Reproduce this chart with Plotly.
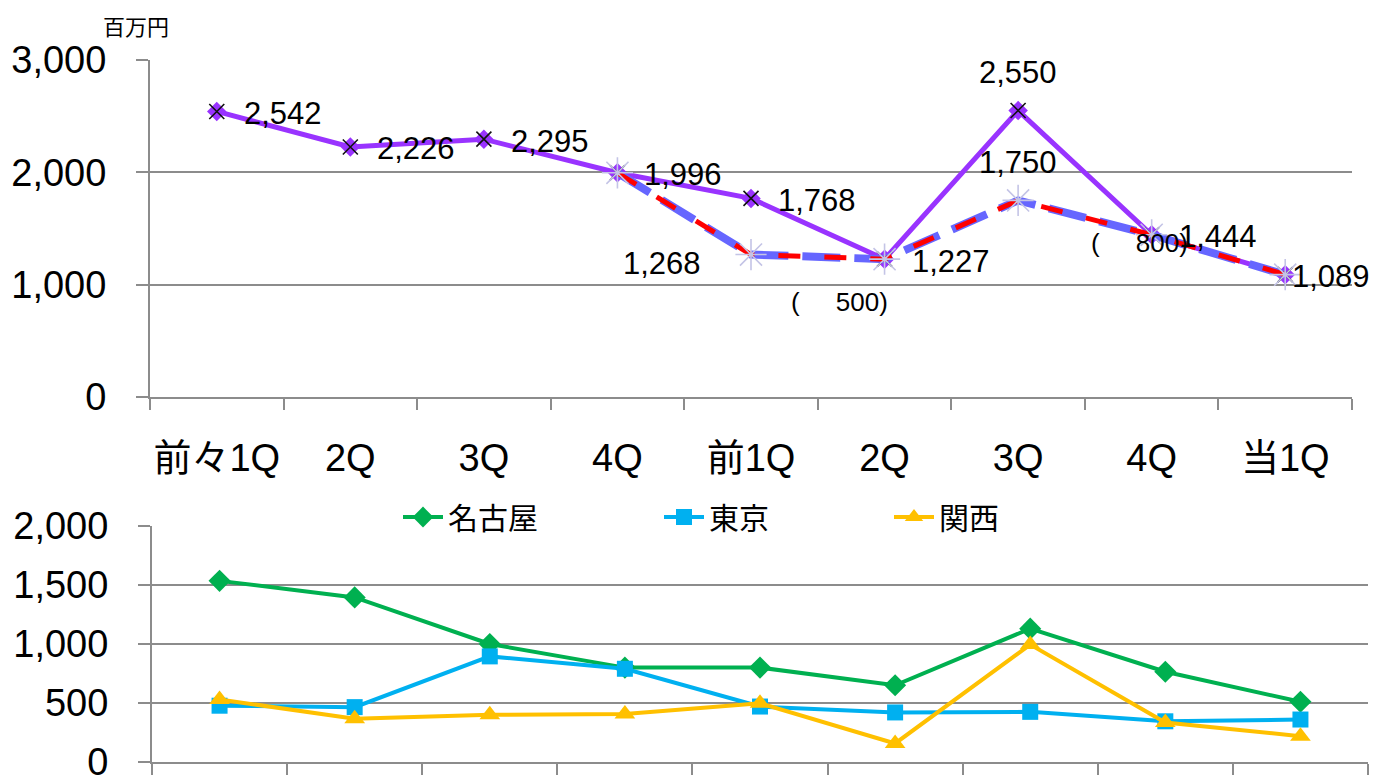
import plotly.graph_objects as go

categories = ["前々1Q", "2Q", "3Q", "4Q", "前1Q", "2Q ", "3Q ", "4Q ", "当1Q"]
tick_text = ["前々1Q", "2Q", "3Q", "4Q", "前1Q", "2Q", "3Q", "4Q", "当1Q"]

total = [2542, 2226, 2295, 1996, 1768, 1227, 2550, 1444, 1089]
plan = [None, None, None, 1996, 1268, 1227, 1750, 1444, 1089]
gap_labels = ["(     500)", "(     800)"]
gap_cats = [categories[4], categories[7]]

nagoya = [1535, 1395, 1000, 800, 800, 650, 1130, 765, 510]
tokyo = [477, 465, 895, 790, 470, 420, 425, 345, 360]
kansai = [530, 366, 400, 406, 498, 157, 995, 334, 219]

FONT = "Liberation Sans, Arial, Noto Sans CJK JP"
GRID = "#8c8c8c"
OFF = 8  # page body margin
W, H = 1378 - OFF, 779 - OFF


def fx(px):
    return (px - OFF) / W


def fy(py):
    return (779 - py) / H


fig = go.Figure()

# ---- top chart ----
fig.add_trace(go.Scatter(x=categories, y=total, mode="lines+markers",
                         line=dict(color="#9933FF", width=5),
                         marker=dict(symbol="diamond", size=15, color="#9933FF"),
                         xaxis="x", yaxis="y", showlegend=False))
fig.add_trace(go.Scatter(x=categories, y=total, mode="markers",
                         marker=dict(symbol="x-thin-open", size=15, color="#111111",
                                     line=dict(color="#111111", width=1.6)),
                         xaxis="x", yaxis="y", showlegend=False))
fig.add_trace(go.Scatter(x=categories, y=plan, mode="lines",
                         line=dict(color="#6666FF", width=8, dash="38px,14px"),
                         xaxis="x", yaxis="y", showlegend=False))
fig.add_trace(go.Scatter(x=categories, y=plan, mode="lines+markers",
                         line=dict(color="#FF0000", width=5, dash="22px,24px"),
                         marker=dict(symbol="asterisk-open", size=26, color="#C4C4E6",
                                     line=dict(color="#C4C4E6", width=1.6)),
                         xaxis="x", yaxis="y", showlegend=False))

# ---- bottom chart ----
fig.add_trace(go.Scatter(x=categories, y=nagoya, mode="lines+markers", name="名古屋",
                         line=dict(color="#00B050", width=4),
                         marker=dict(symbol="diamond", size=17, color="#00B050"),
                         xaxis="x2", yaxis="y2", legend="legend"))
fig.add_trace(go.Scatter(x=categories, y=tokyo, mode="lines+markers", name="東京",
                         line=dict(color="#00B0F0", width=4),
                         marker=dict(symbol="square", size=16, color="#00B0F0"),
                         xaxis="x2", yaxis="y2", legend="legend2"))
fig.add_trace(go.Scatter(x=categories, y=kansai, mode="lines+markers", name="関西",
                         line=dict(color="#FFC000", width=4),
                         marker=dict(symbol="triangle-up", size=18, color="#FFC000"),
                         xaxis="x2", yaxis="y2", legend="legend3"))

# ---- data labels ----
ann = []
for i, (c, v) in enumerate(zip(categories, total)):
    if i == 6:
        ann.append(dict(x=c, y=v, text=f"{v:,}", xanchor="center", yanchor="middle",
                        yshift=38, showarrow=False))
    else:
        xs = 5 if i == 8 else 25
        ann.append(dict(x=c, y=v, text=f"{v:,}", xanchor="left", yanchor="middle",
                        xshift=xs, yshift=-2, showarrow=False))
ann.append(dict(x=categories[4], y=plan[4], text=f"{plan[4]:,}", xanchor="right",
                yanchor="middle", xshift=-48, yshift=-9, showarrow=False))
ann.append(dict(x=categories[6], y=plan[6], text=f"{plan[6]:,}", xanchor="center",
                yanchor="middle", yshift=38, showarrow=False))
ann.append(dict(x=gap_cats[0], y=plan[4], text=gap_labels[0], xanchor="center",
                yanchor="middle", xshift=88, yshift=-47, showarrow=False,
                font=dict(size=26)))
ann.append(dict(x=gap_cats[1], y=plan[7], text=gap_labels[1], xanchor="center",
                yanchor="middle", xshift=-12, yshift=-8, showarrow=False,
                font=dict(size=26)))
for a in ann:
    a.setdefault("font", dict(size=31))
    a["font"]["family"] = FONT
    a["font"]["color"] = "#000000"
    a["xref"] = "x"
    a["yref"] = "y"

ann.append(dict(x=fx(136), y=fy(25), xref="paper", yref="paper", text="百万円",
                showarrow=False, xanchor="center", yanchor="middle",
                font=dict(size=22, family="Noto Sans CJK JP", color="#000000")))

axis_common = dict(showline=True, linecolor=GRID, linewidth=2, ticks="outside",
                   tickwidth=2, tickcolor=GRID, automargin=False,
                   ticklabeloverflow="allow")

leg_common = dict(orientation="h", xanchor="left", y=fy(517), yanchor="middle",
                  bgcolor="rgba(0,0,0,0)", itemwidth=40,
                  font=dict(size=30, family="Noto Sans CJK JP", color="#000000"))

fig.update_layout(
    width=W, height=H,
    margin=dict(l=0, r=0, t=0, b=0, autoexpand=False),
    paper_bgcolor="white", plot_bgcolor="white",
    font=dict(family=FONT, color="#000000"),
    annotations=ann,
    xaxis=dict(domain=[fx(150), fx(1352)], type="category", categoryorder="array",
               categoryarray=categories, range=[-0.5, 8.5],
               tickmode="array", tickvals=categories, ticktext=tick_text,
               tickson="boundaries", ticklen=11, showgrid=False, tickangle=0,
               tickfont=dict(size=38), ticklabelstandoff=26, anchor="y",
               **axis_common),
    yaxis=dict(domain=[fy(397), fy(60)], range=[0, 3000],
               tickvals=[0, 1000, 2000, 3000], tickformat=",",
               showgrid=True, gridcolor=GRID, gridwidth=2, zeroline=False,
               ticklen=12, tickfont=dict(size=38), ticklabelstandoff=22,
               anchor="x", **axis_common),
    xaxis2=dict(domain=[fx(152), fx(1368)], type="category", categoryorder="array",
                categoryarray=categories, range=[-0.5, 8.5],
                tickson="boundaries", ticklen=11, showgrid=False,
                showticklabels=False, anchor="y2", **axis_common),
    yaxis2=dict(domain=[fy(762), fy(526)], range=[0, 2000],
                tickvals=[0, 500, 1000, 1500, 2000], tickformat=",",
                showgrid=True, gridcolor=GRID, gridwidth=2, zeroline=False,
                ticklen=12, tickfont=dict(size=38), ticklabelstandoff=22,
                anchor="x2", **axis_common),
    legend=dict(x=fx(398), **leg_common),
    legend2=dict(x=fx(659), **leg_common),
    legend3=dict(x=fx(889), **leg_common),
)

fig.write_html("out.html")
